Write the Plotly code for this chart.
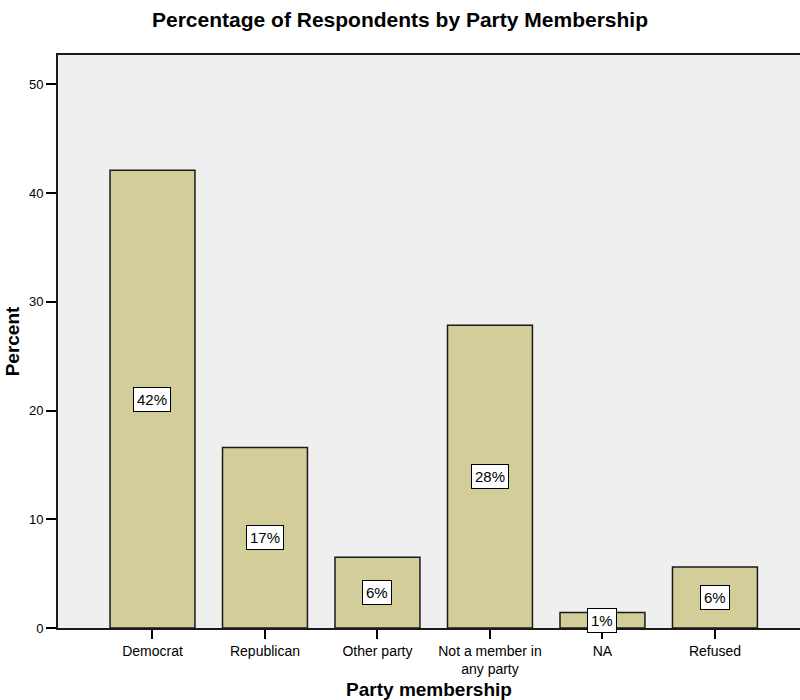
import plotly.graph_objects as go

categories = ["Democrat", "Republican", "Other party", "Not a member in<br>any party", "NA", "Refused"]
percent = [42.1, 16.6, 6.5, 27.85, 1.42, 5.62]
labels = ["42%", "17%", "6%", "28%", "1%", "6%"]
y_ticks = [0, 10, 20, 30, 40, 50]

font_family = "Liberation Sans, Arial, sans-serif"

fig = go.Figure()
fig.add_trace(go.Bar(
    x=list(range(len(categories))),
    y=percent,
    marker=dict(color="#d3ce99", line=dict(color="#1a1a1a", width=1.5)),
    width=0.755,
    hoverinfo="skip",
))

for i, (v, t) in enumerate(zip(percent, labels)):
    fig.add_annotation(
        x=i, y=v / 2, text=t, showarrow=False,
        font=dict(family=font_family, size=15, color="black"),
        bgcolor="white", bordercolor="black", borderwidth=1, borderpad=3,
    )

fig.update_layout(
    width=800, height=700,
    margin=dict(l=58, r=0, t=55, b=72),
    paper_bgcolor="white",
    plot_bgcolor="#efefef",
    showlegend=False,
    font=dict(family=font_family, color="black"),
    title=dict(
        text="<b>Percentage of Respondents by Party Membership</b>",
        x=0.5, xanchor="center", y=0.972, yanchor="middle",
        font=dict(size=21, family=font_family, color="black"),
    ),
    xaxis=dict(
        range=[-0.84, 5.756],
        tickmode="array",
        tickvals=list(range(len(categories))),
        ticktext=categories,
        ticks="outside", ticklen=9, tickwidth=2, tickcolor="black",
        tickfont=dict(size=14, family=font_family, color="black"),
        showline=True, linecolor="#1a1a1a", linewidth=2, mirror=True,
        showgrid=False, zeroline=False,
        title=dict(text="<b>Party membership</b>", font=dict(size=19, family=font_family), standoff=8),
    ),
    yaxis=dict(
        range=[0, 52.7],
        tickmode="array",
        tickvals=y_ticks,
        ticks="outside", ticklen=10, tickwidth=2, tickcolor="black",
        tickfont=dict(size=13, family=font_family, color="black"),
        showline=True, linecolor="#1a1a1a", linewidth=2, mirror=False,
        showgrid=False, zeroline=False,
        title=dict(text="<b>Percent</b>", font=dict(size=19, family=font_family), standoff=4),
    ),
)

fig.write_html("out.html")
